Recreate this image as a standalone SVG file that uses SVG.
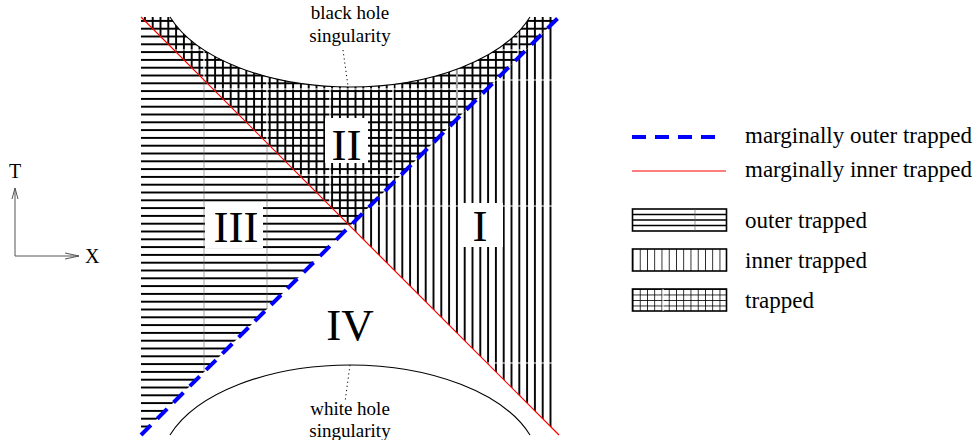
<svg xmlns="http://www.w3.org/2000/svg" width="980" height="440" viewBox="0 0 980 440">
<style>
text{font-family:"Liberation Serif","Times New Roman",serif;fill:#000}
.lbl{font-size:19px;text-anchor:middle}
.num{font-size:45px;text-anchor:middle}
.leg{font-size:23px}
.ax{stroke:#555;stroke-width:1;fill:none}
.curve{stroke:#000;stroke-width:1.1;fill:none}
.dot{stroke:#000;stroke-width:1;stroke-dasharray:1.2 3;fill:none}
.red{stroke:#ff0000;stroke-width:1.2;fill:none}
.blue{stroke:#0000ff;stroke-width:4;stroke-dasharray:14 9;fill:none}
.seamw{stroke:#fff;stroke-width:1.2}
.seamg{stroke:#666;stroke-width:0.6}
.hl{stroke:#000;stroke-width:1.6}
</style>
<defs>
<pattern id="ph" patternUnits="userSpaceOnUse" x="0" y="17" width="40" height="7.8"><line x1="0" y1="3.9" x2="40" y2="3.9" stroke="#000" stroke-width="1.9"/></pattern>
<pattern id="pv" patternUnits="userSpaceOnUse" x="141" y="0" width="7.8" height="40"><line x1="3.9" y1="0" x2="3.9" y2="40" stroke="#000" stroke-width="1.9"/></pattern>
<pattern id="pc" patternUnits="userSpaceOnUse" x="141" y="17" width="7.8" height="7.8"><line x1="3.9" y1="0" x2="3.9" y2="7.8" stroke="#000" stroke-width="1.9"/><line x1="0" y1="3.9" x2="7.8" y2="3.9" stroke="#000" stroke-width="1.9"/></pattern>
<pattern id="lv" patternUnits="userSpaceOnUse" x="632.5" y="0" width="7.25" height="40"><line x1="0" y1="0" x2="0" y2="40" stroke="#000" stroke-width="1.6"/></pattern>
<pattern id="lc" patternUnits="userSpaceOnUse" x="632.5" y="289" width="7.25" height="5.5"><line x1="0" y1="0" x2="0" y2="5.5" stroke="#000" stroke-width="1.6"/><line x1="0" y1="0" x2="7.25" y2="0" stroke="#000" stroke-width="1.6"/></pattern>
<clipPath id="c3"><polygon points="141,17 350,226 141,435"/></clipPath>
<clipPath id="c2"><path d="M141,17 L170,17 A190,103 0 0 0 530,17 L555,17 L555,21 L350,226 Z"/></clipPath>
<clipPath id="c1"><polygon points="555,21 350,226 555,431"/></clipPath>
</defs>

<g id="region-III">
<polygon points="141,17 350,226 141,435" fill="url(#ph)"/>
<g clip-path="url(#c3)"><line class="seamg" x1="204" y1="17" x2="204" y2="435"/><line class="seamg" x1="267" y1="17" x2="267" y2="435"/></g>
<rect x="205" y="205" width="58" height="43" fill="#fff"/>
<text class="num" x="236" y="242">III</text>
</g>

<g id="region-II">
<path d="M141,17 L170,17 A190,103 0 0 0 530,17 L555,17 L555,21 L350,226 Z" fill="url(#pc)"/>
<g clip-path="url(#c2)">
<line class="seamw" x1="204" y1="17" x2="204" y2="226"/><line class="seamw" x1="267" y1="17" x2="267" y2="226"/><line class="seamw" x1="330" y1="17" x2="330" y2="226"/><line class="seamw" x1="393" y1="17" x2="393" y2="226"/><line class="seamw" x1="457" y1="17" x2="457" y2="226"/><line class="seamw" x1="518" y1="17" x2="518" y2="226"/>
<line class="seamw" x1="141" y1="50" x2="555" y2="50"/><line class="seamw" x1="141" y1="89" x2="555" y2="89"/><line class="seamw" x1="141" y1="175" x2="555" y2="175"/>
</g>
<rect x="325" y="118" width="43" height="45" fill="#fff"/>
<text class="num" x="346.5" y="160">II</text>
</g>

<g id="region-I">
<polygon points="555,21 350,226 555,431" fill="url(#pv)"/>
<g clip-path="url(#c1)"><line class="seamw" x1="350" y1="80" x2="555" y2="80"/><line class="seamw" x1="350" y1="206" x2="555" y2="206"/><line class="seamw" x1="350" y1="363" x2="555" y2="363"/></g>
<rect x="458" y="203" width="45" height="44" fill="#fff"/>
<text class="num" x="480" y="241">I</text>
</g>

<g id="region-IV">
<text class="num" x="350" y="340">IV</text>
</g>

<g id="black-hole-singularity">
<path class="curve" d="M170,17 A190,103 0 0 0 530,17"/>
<line class="dot" x1="343" y1="50" x2="348" y2="86"/>
<text class="lbl" x="350" y="19">black hole</text>
<text class="lbl" x="350" y="42">singularity</text>
</g>

<g id="white-hole-singularity">
<path class="curve" d="M170,435 A190,103 0 0 1 530,435"/>
<line class="dot" x1="350" y1="365" x2="345" y2="402"/>
<text class="lbl" x="350" y="415">white hole</text>
<text class="lbl" x="350" y="437">singularity</text>
</g>

<g id="connectors">
<line class="red" x1="141" y1="17" x2="559" y2="435"/>
<line class="blue" x1="141" y1="435" x2="559" y2="17"/>
</g>

<g id="axes">
<polyline class="ax" points="15,188 15,256 79,256"/>
<polyline class="ax" points="12,199 15,188 18,199"/>
<polyline class="ax" points="65,253 79,256 65,259"/>
<text x="15" y="178" font-size="20" text-anchor="middle">T</text>
<text x="85" y="263" font-size="20">X</text>
</g>

<g id="legend">
<line class="blue" x1="632" y1="137" x2="715" y2="137" stroke-dasharray="15 9"/>
<text class="leg" x="745" y="143">marginally outer trapped</text>
<line x1="632" y1="171" x2="726" y2="171" stroke="#ff0000" stroke-width="1.2"/>
<text class="leg" x="745" y="177">marginally inner trapped</text>

<rect x="632.5" y="209" width="94" height="22" fill="#fff" stroke="#000" stroke-width="1.6"/>
<line class="hl" x1="632.5" y1="214.5" x2="726.5" y2="214.5"/>
<line class="hl" x1="632.5" y1="220" x2="726.5" y2="220"/>
<line class="hl" x1="632.5" y1="225.5" x2="726.5" y2="225.5"/>
<line x1="695" y1="209" x2="695" y2="231" stroke="#555" stroke-width="0.6"/>
<text class="leg" x="745" y="228">outer trapped</text>

<rect x="632.5" y="249" width="94" height="22" fill="url(#lv)" stroke="#000" stroke-width="1.6"/>
<text class="leg" x="745" y="268">inner trapped</text>

<rect x="632.5" y="289" width="94" height="22" fill="url(#lc)" stroke="#000" stroke-width="1.6"/>
<line x1="663" y1="289" x2="663" y2="311" stroke="#fff" stroke-width="1"/>
<text class="leg" x="745" y="308">trapped</text>
</g>
</svg>
